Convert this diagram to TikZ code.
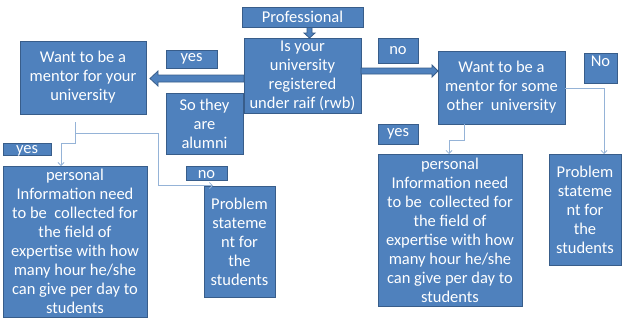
\documentclass[tikz,border=0pt]{standalone}
\usepackage{fontspec}
\setmainfont{Carlito}
\usetikzlibrary{arrows.meta}
\definecolor{boxfill}{HTML}{4F81BD}
\definecolor{boxline}{HTML}{385D8A}
\definecolor{connc}{HTML}{95B3D7}
\begin{document}
\begin{tikzpicture}[x=1pt,y=-1pt,
  box/.style={draw=boxline, fill=boxfill, line width=1pt, text=white, inner sep=0pt,
    align=center, font=\fontsize{16.5}{19}\selectfont},
  blockarrow/.style={draw=boxline, fill=boxfill, line width=0.8pt, line join=miter},
  conn/.style={draw=connc, line width=0.8pt},
  tip/.style={-{Straight Barb[length=3pt,width=6pt]}}]
\useasboundingbox (0,0) rectangle (624,322);
\fill[white] (0,0) rectangle (624,322);

% boxes
\node[box, minimum width=121pt, minimum height=20pt] (prof) at (302.5,17) {Professional};
\node[box, minimum width=117pt, minimum height=75pt] (isuni) at (302.5,75.5)
  {Is your\\university\\registered\\under raif (rwb)};
\node[box, minimum width=126pt, minimum height=73pt] (wantyour) at (83,77.5)
  {Want to be a\\mentor for your\\university};
\node[box, minimum width=51pt, minimum height=18pt] (yes1) at (191.5,59) {yes};
\node[box, minimum width=77pt, minimum height=61pt] (alumni) at (204.5,123.5)
  {So they\\are\\alumni};
\node[box, minimum width=48pt, minimum height=12pt, text height=9pt, text depth=0pt] (yes2) at (27,149) {yes};
\node[box, minimum width=144pt, minimum height=151pt] (pers1) at (75,241.5)
  {personal\\Information need\\to be\ \ collected for\\the field of\\expertise with how\\many hour he/she\\can give per day to\\students};
\node[box, minimum width=41pt, minimum height=14pt, text height=10pt, text depth=0pt] (no1) at (206.5,173) {no};
\node[box, minimum width=71pt, minimum height=111pt] (prob1) at (239.5,241.5)
  {Problem\\stateme\\nt for\\the\\students};

\node[box, minimum width=40pt, minimum height=25pt] (no2) at (398,50.5) {no};
\node[box, minimum width=127pt, minimum height=73pt] (wantother) at (501.5,87.5)
  {Want to be a\\mentor for some\\other\ \ university};
\node[box, minimum width=33pt, minimum height=30pt, text depth=14pt] (no3) at (600.5,68) {No};
\node[box, minimum width=40pt, minimum height=20pt] (yes3) at (398,134) {yes};
\node[box, minimum width=144pt, minimum height=152pt] (pers2) at (450,230)
  {personal\\Information need\\to be\ \ collected for\\the field of\\expertise with how\\many hour he/she\\can give per day to\\students};
\node[box, minimum width=72pt, minimum height=111pt] (prob2) at (585,209.5)
  {Problem\\stateme\\nt for\\the\\students};

% block arrows
\draw[blockarrow] (307,27.5) -- (312,27.5) -- (312,33) -- (315,33) -- (309.5,38) -- (304,33) -- (307,33) -- cycle;
\draw[blockarrow] (244,75) -- (158,75) -- (158,71) -- (150,78.5) -- (158,86) -- (158,82) -- (244,82) -- cycle;
\draw[blockarrow] (361,68) -- (432,68) -- (432,65) -- (438,71) -- (432,77) -- (432,74) -- (361,74) -- cycle;

% connectors
\coordinate (c1) at (75,122);
\coordinate (j1) at (75,133);
\coordinate (e1) at (61,166);
\coordinate (e2) at (213,185.5);
\coordinate (c3) at (464,124);
\coordinate (e3) at (449,154);
\coordinate (c4) at (565,88);
\coordinate (e4) at (604,154);
\draw[conn,tip] (c1) -- (75,143) -| (e1);
\draw[conn,tip] (j1) -| (158,185.5) -- (e2);
\draw[conn,tip] (c3) -- (464,140) -| (e3);
\draw[conn,tip] (c4) -| (e4);
\end{tikzpicture}
\end{document}
